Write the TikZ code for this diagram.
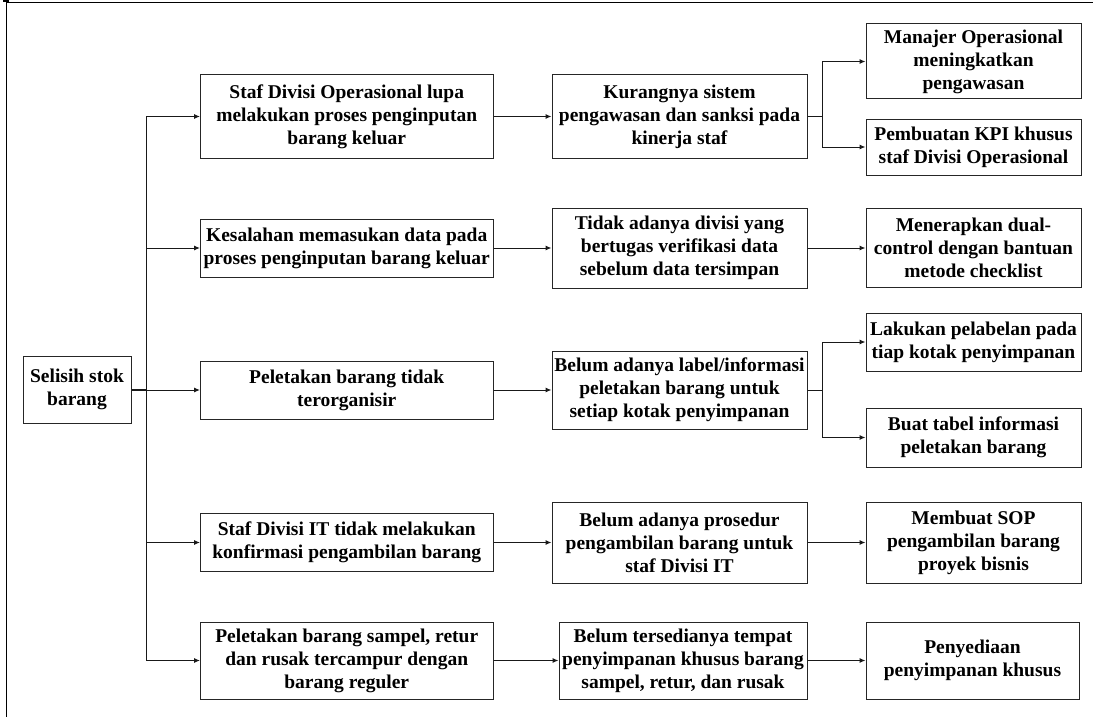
\documentclass[tikz,border=0pt]{standalone}
\usepackage{fontspec}
\setmainfont{Liberation Serif}
\usetikzlibrary{arrows.meta}
\tikzset{
  box/.style={draw=black!85, line width=1pt, align=center, inner sep=0pt,
    font=\bfseries\fontsize{19.5}{23}\selectfont},
  colA/.style={box, minimum width=292.5pt},
  colB/.style={box, minimum width=255pt},
  colC/.style={box, minimum width=215pt},
  conn/.style={draw=black!90, line width=1pt},
  arr/.style={conn, -{Latex[length=6pt,width=5pt]}},
}
\begin{document}
\begin{tikzpicture}[x=1pt,y=-1pt]
\useasboundingbox (0,0) rectangle (1093,717);
% frame
\draw[line width=1pt] (6,0) -- (6,717);
\draw[line width=1pt] (6,3) -- (1093,3);
\draw[line width=1.5pt] (3,1) -- (9,1);
% root
\node[box, minimum width=108pt, minimum height=67pt] (root) at (77,389.5) {Selisih stok\\barang};
% column 1
\node[colA, minimum height=84pt] (a1) at (346.75,116.5) {Staf Divisi Operasional lupa\\melakukan proses penginputan\\barang keluar};
\node[colA, minimum height=58pt] (a2) at (346.75,248) {Kesalahan memasukan data pada\\proses penginputan barang keluar};
\node[colA, minimum height=58pt] (a3) at (346.75,390) {Peletakan barang tidak\\terorganisir};
\node[colA, minimum height=58pt] (a4) at (346.75,542.5) {Staf Divisi IT tidak melakukan\\konfirmasi pengambilan barang};
\node[colA, minimum height=77pt] (a5) at (346.75,660.5) {Peletakan barang sampel, retur\\dan rusak tercampur dengan\\barang reguler};
% column 2
\node[colB, minimum height=84pt] (b1) at (679.5,116.5) {Kurangnya sistem\\pengawasan dan sanksi pada\\kinerja staf};
\node[colB, minimum height=80pt] (b2) at (679.5,248) {Tidak adanya divisi yang\\bertugas verifikasi data\\sebelum data tersimpan};
\node[colB, minimum height=78pt] (b3) at (679.5,390) {Belum adanya label/informasi\\peletakan barang untuk\\setiap kotak penyimpanan};
\node[colB, minimum height=81pt] (b4) at (679.5,542.5) {Belum adanya prosedur\\pengambilan barang untuk\\staf Divisi IT};
\node[box, minimum width=248pt, minimum height=77pt] (b5) at (683,660.5) {Belum tersedianya tempat\\penyimpanan khusus barang\\sampel, retur, dan rusak};
% column 3
\node[colC, minimum height=75pt] (c1a) at (973.5,61.5) {Manajer Operasional\\meningkatkan\\pengawasan};
\node[colC, minimum height=56pt] (c1b) at (973.5,147) {Pembuatan KPI khusus\\staf Divisi Operasional};
\node[colC, minimum height=79pt] (c2) at (973.5,248) {Menerapkan dual-\\control dengan bantuan\\metode checklist};
\node[colC, minimum height=58pt] (c3a) at (973.5,342) {Lakukan pelabelan pada\\tiap kotak penyimpanan};
\node[colC, minimum height=59pt] (c3b) at (973.5,437.5) {Buat tabel informasi\\peletakan barang};
\node[colC, minimum height=81pt] (c4) at (973.5,542.5) {Membuat SOP\\pengambilan barang\\proyek bisnis};
\node[box, minimum width=213pt, minimum height=77pt] (c5) at (972.5,660.5) {Penyediaan\\penyimpanan khusus};
% root to column 1
\coordinate (trunk) at ([xshift=14.5pt]root.east);
\draw[conn, line width=2pt] (root.east) -- (trunk);
\foreach \n in {a1,a2,a3,a4,a5} {
  \draw[arr] (trunk) |- (\n.west);
}
% column 1 to column 2
\foreach \i in {1,...,5} {
  \draw[arr] (a\i.east) -- (b\i.west |- a\i.east);
}
% column 2 to column 3
\draw[arr] (b1.east) -- ++(14.5,0) |- (c1a.west);
\draw[arr] (b1.east) -- ++(14.5,0) |- (c1b.west);
\draw[arr] (b2.east) -- (c2.west);
\draw[arr] (b3.east) -- ++(14.5,0) |- (c3a.west);
\draw[arr] (b3.east) -- ++(14.5,0) |- (c3b.west);
\draw[arr] (b4.east) -- (c4.west);
\draw[arr] (b5.east) -- (c5.west);
\end{tikzpicture}
\end{document}
